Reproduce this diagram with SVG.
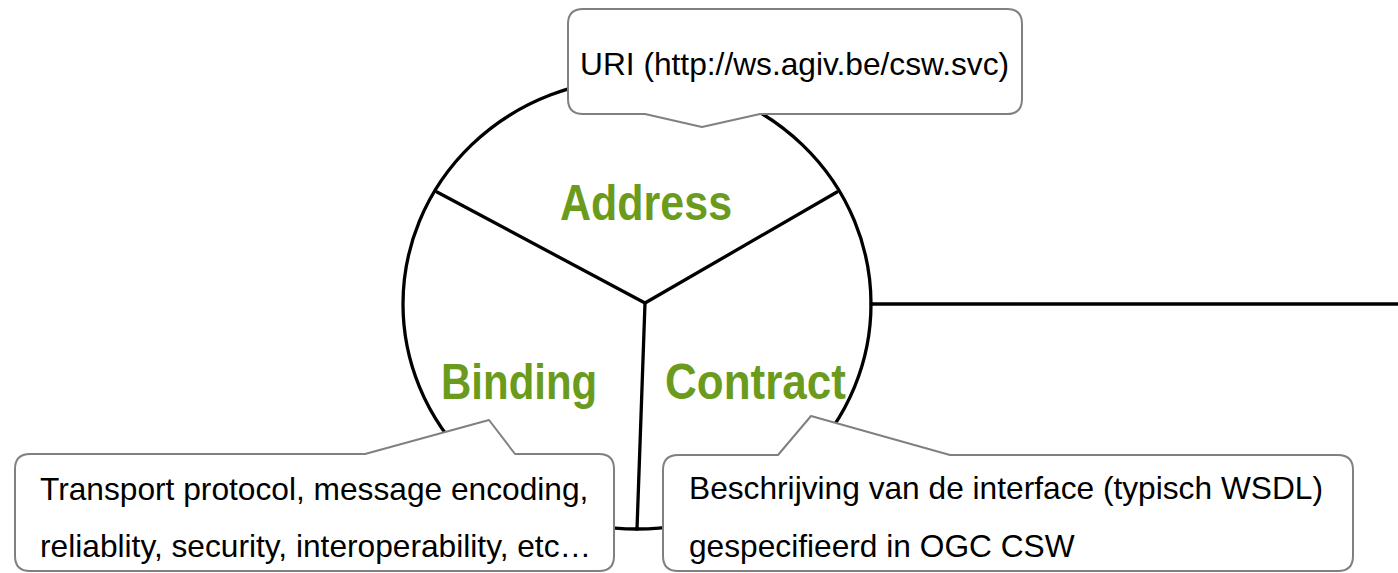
<svg xmlns="http://www.w3.org/2000/svg" width="1398" height="573" viewBox="0 0 1398 573">
<style>
.ln{stroke:#000;stroke-width:3.3;fill:none;stroke-linecap:round}
.co{fill:#fff;stroke:#808080;stroke-width:2;stroke-linejoin:round}
.tx{font-family:"Liberation Sans",Arial,sans-serif;font-size:31.7px;fill:#000}
.lb{font-family:"Liberation Sans",Arial,sans-serif;font-size:50px;font-weight:bold;fill:#6b9b1c}
</style>
<rect width="1398" height="573" fill="#fff"/>
<g id="circle">
<ellipse cx="637" cy="304" rx="234" ry="225" class="ln"/>
</g>
<g id="connectors">
<line x1="645" y1="303" x2="437" y2="192" class="ln"/>
<line x1="645" y1="303" x2="837" y2="192" class="ln"/>
<line x1="645" y1="303" x2="637" y2="529" class="ln"/>
<line x1="871" y1="304" x2="1398" y2="304" class="ln"/>
</g>
<g id="uri">
<path class="co" d="M583,9 H1007 Q1022,9 1022,24 V99 Q1022,114 1007,114 H760 L702,127 L645,114 H583 Q568,114 568,99 V24 Q568,9 583,9 Z"/>
<text class="tx" x="580" y="75">URI (http://ws.agiv.be/csw.svc)</text>
</g>
<g id="binding-note">
<path class="co" d="M30,454 H365 L489,420 L515,454 H599 Q614,454 614,469 V556 Q614,571 599,571 H30 Q15,571 15,556 V469 Q15,454 30,454 Z"/>
<text class="tx" x="40" y="500">Transport protocol, message encoding,</text>
<text class="tx" x="40" y="557">reliablity, security, interoperability, etc…</text>
</g>
<g id="contract-note">
<path class="co" d="M678,455 H778 L811,416 L950,455 H1338 Q1353,455 1353,470 V556 Q1353,571 1338,571 H678 Q663,571 663,556 V470 Q663,455 678,455 Z"/>
<text class="tx" x="689" y="499">Beschrijving van de interface (typisch WSDL)</text>
<text class="tx" x="689" y="557">gespecifieerd in OGC CSW</text>
</g>
<g id="address">
<text class="lb" transform="translate(560,220) scale(0.86,1)">Address</text>
</g>
<g id="binding">
<text class="lb" transform="translate(441,399) scale(0.84,1)">Binding</text>
</g>
<g id="contract">
<text class="lb" transform="translate(665,399) scale(0.88,1)">Contract</text>
</g>
</svg>
